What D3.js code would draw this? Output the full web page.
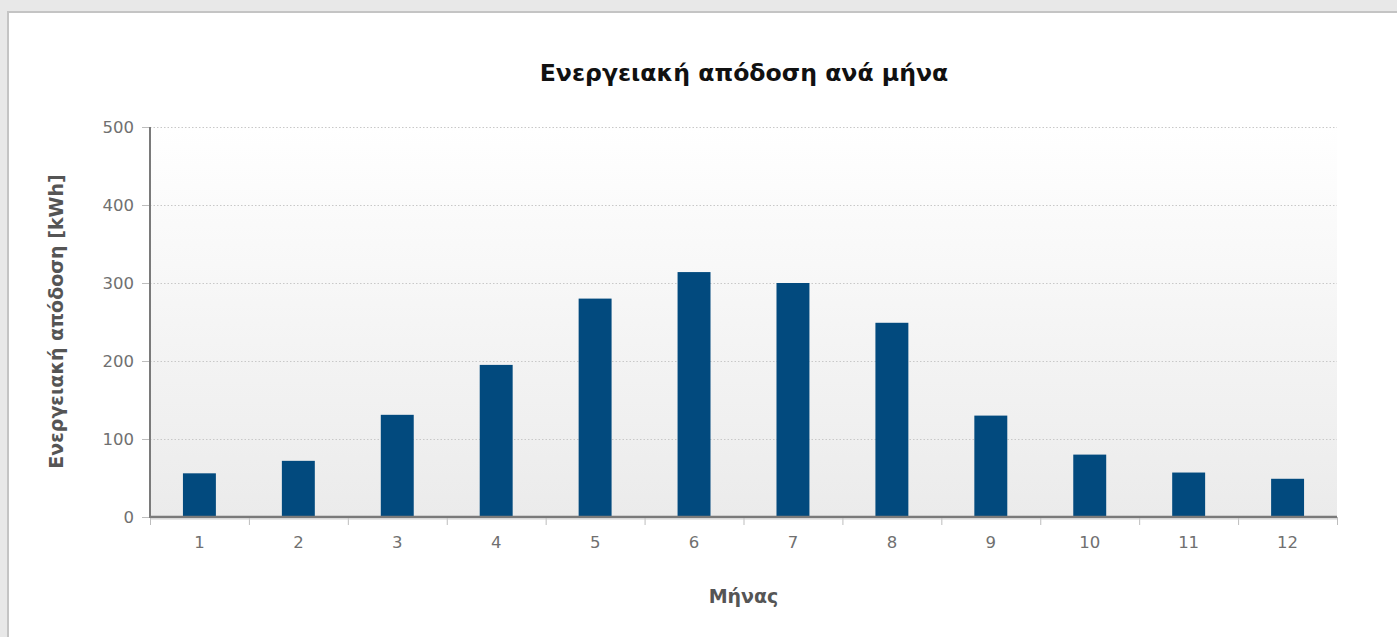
<!DOCTYPE html>
<html><head><meta charset="utf-8">
<script src="https://cdn.jsdelivr.net/npm/d3@7/dist/d3.min.js"></script>
<style>
html,body{margin:0;padding:0;background:#e8e8e8;}
svg{display:block;}
</style></head>
<body>
<svg id="chart" width="1397" height="637"></svg>
<script>
const months = ["1","2","3","4","5","6","7","8","9","10","11","12"];
const energy = [56, 72, 131, 195, 280, 314, 300, 249, 130, 80, 57, 49];
const yTicks = [0, 100, 200, 300, 400, 500];
const chartTitle = "Ενεργειακή απόδοση ανά μήνα";
const yTitle = "Ενεργειακή απόδοση [kWh]";
const xTitle = "Μήνας";

const svg = d3.select("#chart");
const m = {left:150, right:1337, top:127, bottom:517};

// panel
svg.append("rect").attr("x",0).attr("y",0).attr("width",1397).attr("height",637).attr("fill","#e8e8e8");
svg.append("rect").attr("x",8).attr("y",12).attr("width",1400).attr("height",640)
  .attr("fill","#ffffff").attr("stroke","#c4c4c4").attr("stroke-width",2);

const defs = svg.append("defs");
const grad = defs.append("linearGradient").attr("id","bg").attr("x1",0).attr("y1",0).attr("x2",0).attr("y2",1);
grad.append("stop").attr("offset","0%").attr("stop-color","#ffffff");
grad.append("stop").attr("offset","100%").attr("stop-color","#ebebeb");

const x = d3.scaleBand().domain(months).range([m.left, m.right]).paddingInner(0.667).paddingOuter(0.333);
const xb = d3.scaleBand().domain(months).range([m.left, m.right]);
const y = d3.scaleLinear().domain([0,500]).range([m.bottom, m.top]);

svg.append("rect").attr("x",m.left).attr("y",m.top).attr("width",m.right-m.left).attr("height",m.bottom-m.top)
  .attr("fill","url(#bg)");

// grid
svg.append("g").selectAll("line").data(yTicks.filter(d=>d>0)).join("line")
  .attr("x1",m.left).attr("x2",m.right).attr("y1",d=>y(d)+0.5).attr("y2",d=>y(d)+0.5)
  .attr("stroke","#c8c8c8").attr("stroke-width",1).attr("stroke-dasharray","1.5,2");

// y axis
const yAxis = d3.axisLeft(y).tickValues(yTicks).tickSize(8).tickPadding(8);
const gy = svg.append("g").attr("transform",`translate(${m.left},0)`).call(yAxis);
gy.select(".domain").remove();
gy.selectAll(".tick line").attr("stroke","#bdbdbd");
gy.selectAll(".tick text").attr("fill","#707070").style("font-family","DejaVu Sans").style("font-size","16.5px");

// bars
svg.append("g").selectAll("rect").data(energy).join("rect")
  .attr("x",(d,i)=>x(months[i])).attr("width",x.bandwidth())
  .attr("y",d=>y(d)).attr("height",d=>y(0)-y(d))
  .attr("fill","#024a7e");

// x axis
const gx = svg.append("g").attr("transform",`translate(0,${m.bottom})`)
  .call(d3.axisBottom(xb).tickSize(0).tickPadding(19));
gx.select(".domain").remove();
gx.selectAll(".tick text").attr("fill","#707070").style("font-family","DejaVu Sans").style("font-size","16.5px");
// boundary ticks
const bounds = months.map(mo=>xb(mo)).concat([m.right]);
svg.append("g").selectAll("line").data(bounds).join("line")
  .attr("x1",d=>d+0.5).attr("x2",d=>d+0.5).attr("y1",m.bottom).attr("y2",m.bottom+8)
  .attr("stroke","#bdbdbd");

// axis lines
svg.append("line").attr("x1",m.left).attr("x2",m.left).attr("y1",m.top).attr("y2",m.bottom+1)
  .attr("stroke","#7a7a7a").attr("stroke-width",2);
svg.append("line").attr("x1",m.left).attr("x2",m.right).attr("y1",m.bottom).attr("y2",m.bottom)
  .attr("stroke","#7a7a7a").attr("stroke-width",2.5);
svg.append("line").attr("x1",m.left).attr("x2",m.right).attr("y1",m.bottom+2).attr("y2",m.bottom+2)
  .attr("stroke","#d0d0d0").attr("stroke-width",1);

// titles
svg.append("text").attr("x",744).attr("y",81).attr("text-anchor","middle")
  .style("font-family","DejaVu Sans").style("font-weight","bold").style("font-size","23.6px").attr("fill","#111")
  .text(chartTitle);
svg.append("text").attr("transform",`translate(63,${321.5}) rotate(-90)`).attr("text-anchor","middle")
  .style("font-family","DejaVu Sans").style("font-weight","bold").style("font-size","19px").attr("fill","#555")
  .text(yTitle);
svg.append("text").attr("x",743.5).attr("y",603).attr("text-anchor","middle")
  .style("font-family","DejaVu Sans").style("font-weight","bold").style("font-size","19px").attr("fill","#555")
  .text(xTitle);
</script>
</body></html>
